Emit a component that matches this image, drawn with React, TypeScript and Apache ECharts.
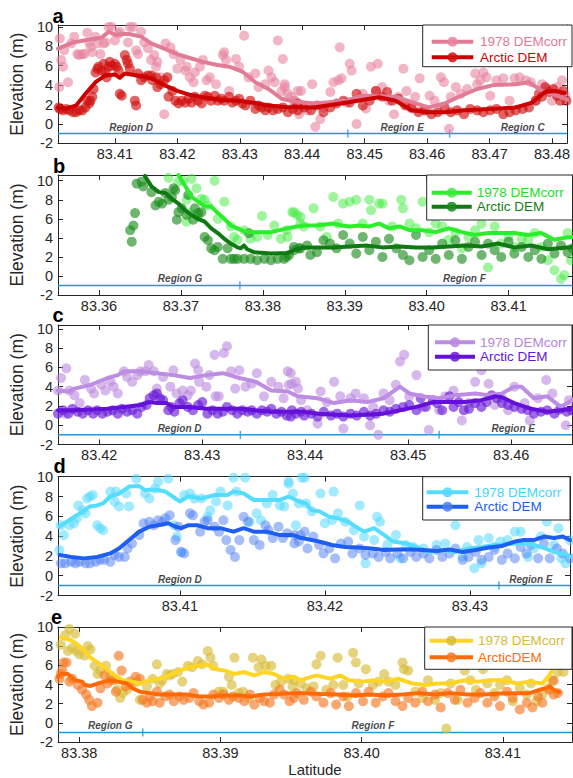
import React, { useEffect, useRef } from "react";
import * as echarts from "echarts";

const FONT = "'Liberation Sans', Arial, Helvetica, sans-serif";
const AXIS_COLOR = "#262626";
const REGION_COLOR = "#1E9AD6";

// ---------------- Panel a ----------------
const A_X_RANGE = [83.4009, 83.4824];
const A_X_TICKS = [83.41, 83.42, 83.43, 83.44, 83.45, 83.46, 83.47, 83.48];
const A_CORR_LINE = [[83.4009,7.76],[83.4033,8.4],[83.4059,8.7],[83.4079,8.9],[83.409,9.5],[83.41,9.2],[83.4121,9.3],[83.4142,9.0],[83.4158,8.3],[83.4179,7.76],[83.42,7.2],[83.422,6.8],[83.4241,6.4],[83.4262,6.1],[83.4283,5.9],[83.4304,5.4],[83.4325,4.3],[83.4346,3.6],[83.4367,2.6],[83.4388,2.3],[83.4419,2.1],[83.4471,2.4],[83.4497,2.9],[83.4549,2.8],[83.4602,1.7],[83.4628,2.1],[83.4649,2.75],[83.468,3.6],[83.4706,4.0],[83.4742,4.1],[83.4763,4.3],[83.4784,3.4],[83.4805,3.0],[83.4824,2.5]];
const A_ARCTIC_LINE = [[83.4009,1.7],[83.4022,1.55],[83.4038,1.9],[83.4053,3.1],[83.4069,4.3],[83.4085,5.0],[83.41,5.1],[83.4108,4.75],[83.4116,5.2],[83.4137,5.0],[83.4158,4.7],[83.4179,4.0],[83.42,3.4],[83.422,3.0],[83.4241,2.75],[83.4267,2.5],[83.4294,2.4],[83.432,2.2],[83.4346,1.9],[83.4372,1.75],[83.4419,1.7],[83.4471,2.2],[83.4523,2.75],[83.4549,2.4],[83.4575,1.4],[83.4602,1.2],[83.4628,1.2],[83.4659,1.4],[83.4706,1.55],[83.4742,1.7],[83.4768,2.2],[83.4789,3.3],[83.4805,3.4],[83.482,3.2]];
const A_CORR_PTS = [[83.4011,3.8],[83.4012,8.8],[83.4014,6.6],[83.4017,5.9],[83.4019,7.6],[83.4025,4.3],[83.403,8.3],[83.4035,9.0],[83.404,7.2],[83.4043,7.1],[83.4048,7.2],[83.4051,7.2],[83.4056,9.4],[83.4059,8.4],[83.4061,7.9],[83.4064,7.4],[83.4069,9.0],[83.4072,8.3],[83.4077,7.2],[83.4082,8.3],[83.4085,8.4],[83.409,10.0],[83.4095,10.0],[83.41,8.6],[83.4106,9.3],[83.4108,9.5],[83.4121,8.4],[83.4124,10.0],[83.4129,10.0],[83.4134,7.6],[83.4137,7.2],[83.4142,9.5],[83.4147,8.4],[83.4153,7.8],[83.4158,6.6],[83.4163,7.1],[83.4166,5.9],[83.4168,6.4],[83.4173,4.8],[83.4179,1.0],[83.4181,8.3],[83.4189,7.9],[83.4194,7.2],[83.42,5.7],[83.4205,6.6],[83.4213,5.5],[83.4215,5.9],[83.422,4.8],[83.4226,4.3],[83.4228,5.3],[83.4236,5.9],[83.4241,6.6],[83.4247,4.5],[83.4252,4.8],[83.4262,4.1],[83.4273,7.1],[83.4275,7.4],[83.4278,6.6],[83.4283,3.4],[83.4294,6.7],[83.4299,5.9],[83.4307,9.1],[83.4314,4.8],[83.4325,5.2],[83.433,3.8],[83.4341,4.1],[83.4346,5.5],[83.4351,4.8],[83.4356,4.3],[83.4361,8.6],[83.4367,3.4],[83.4369,6.7],[83.4372,3.8],[83.4377,3.1],[83.4388,2.4],[83.4393,3.4],[83.4395,1.0],[83.4372,4.1],[83.4382,2.8],[83.4387,2.4],[83.4398,3.4],[83.4408,1.4],[83.4416,4.1],[83.4421,-0.3],[83.4429,0.5],[83.4434,1.7],[83.4445,3.3],[83.445,4.3],[83.4458,4.5],[83.446,7.9],[83.4463,4.7],[83.4471,2.2],[83.4476,6.2],[83.4479,5.5],[83.4487,0.0],[83.4497,3.1],[83.4502,1.6],[83.451,5.9],[83.4518,3.4],[83.4521,6.2],[83.4528,3.8],[83.4539,2.4],[83.4547,1.0],[83.4554,2.8],[83.4562,5.7],[83.4567,3.4],[83.4575,1.6],[83.4581,2.8],[83.4588,4.7],[83.4596,1.4],[83.4604,2.9],[83.4612,2.4],[83.4622,4.8],[83.4627,4.3],[83.4635,-0.5],[83.4638,2.8],[83.4646,3.8],[83.4654,3.1],[83.4664,3.6],[83.4677,5.2],[83.468,4.1],[83.4685,4.5],[83.469,5.3],[83.4695,4.8],[83.4701,2.9],[83.4711,4.5],[83.4722,4.7],[83.4732,2.4],[83.474,4.7],[83.4748,4.8],[83.4758,4.5],[83.4766,4.3],[83.4774,2.4],[83.4784,4.1],[83.4792,3.6],[83.48,2.4],[83.4808,3.8],[83.4816,4.5],[83.4821,2.9]];
const A_ARCTIC_PTS = [[83.401,1.7],[83.4012,1.55],[83.4017,1.4],[83.4022,1.55],[83.4027,1.4],[83.4033,1.2],[83.4038,1.2],[83.4043,1.4],[83.4048,1.4],[83.4053,1.7],[83.4056,2.4],[83.4059,2.1],[83.4061,2.4],[83.4064,2.8],[83.4066,3.6],[83.4069,5.3],[83.4072,5.7],[83.4074,5.9],[83.4079,5.5],[83.4082,6.2],[83.4085,5.3],[83.4087,4.8],[83.409,5.9],[83.4092,6.4],[83.4095,6.0],[83.41,6.2],[83.4103,5.9],[83.4106,5.5],[83.4108,3.1],[83.4111,2.9],[83.4116,7.1],[83.4119,6.6],[83.4121,6.2],[83.4124,5.7],[83.4132,2.4],[83.4134,1.9],[83.4137,5.2],[83.4142,4.5],[83.4147,4.8],[83.4153,5.0],[83.4158,5.0],[83.416,4.5],[83.4166,4.8],[83.4168,3.8],[83.4173,4.1],[83.4179,4.5],[83.4184,4.8],[83.4186,2.8],[83.4192,3.4],[83.4197,2.4],[83.4202,2.1],[83.4207,2.4],[83.4213,2.2],[83.4218,2.6],[83.4223,2.2],[83.4228,2.8],[83.4233,2.4],[83.4239,2.1],[83.4244,2.9],[83.4249,2.8],[83.4254,2.4],[83.426,2.9],[83.4265,2.4],[83.427,2.6],[83.4275,2.4],[83.4283,2.8],[83.4288,2.2],[83.4294,2.4],[83.4299,2.6],[83.4304,2.1],[83.4309,1.9],[83.4317,2.4],[83.4325,1.55],[83.433,1.9],[83.4335,1.7],[83.4341,1.4],[83.4346,1.7],[83.4353,1.4],[83.4361,1.55],[83.4369,1.7],[83.4377,1.2],[83.4385,1.55],[83.4393,1.4],[83.4393,2.1],[83.4403,1.7],[83.4414,1.4],[83.4424,1.9],[83.4434,1.2],[83.4445,1.7],[83.4455,2.1],[83.4466,2.4],[83.4476,2.2],[83.4487,3.1],[83.4497,1.9],[83.4508,2.4],[83.4518,3.4],[83.4528,2.8],[83.4536,3.3],[83.4544,2.4],[83.4554,2.6],[83.4565,1.9],[83.4575,1.7],[83.4586,1.2],[83.4596,1.4],[83.4607,1.0],[83.4617,1.2],[83.4628,1.7],[83.4638,1.2],[83.4648,1.4],[83.4659,1.0],[83.4669,1.55],[83.468,1.4],[83.469,1.2],[83.4701,1.4],[83.4711,1.55],[83.4722,1.0],[83.4732,1.2],[83.4742,1.4],[83.4753,1.55],[83.4763,1.7],[83.4774,2.4],[83.4779,3.1],[83.4784,2.8],[83.4789,3.8],[83.4795,3.3],[83.4802,3.6],[83.4808,2.9],[83.4813,2.4],[83.4818,3.4],[83.4823,2.4]];
const A_REGION_BOUNDS = [83.4473, 83.4636];
const A_REGION_LABELS: [number, string][] = [[83.4126, "Region D"], [83.456, "Region E"], [83.4753, "Region C"]];

// ---------------- Panel b ----------------
const B_X_RANGE = [83.355, 83.4178];
const B_X_TICKS = [83.36, 83.37, 83.38, 83.39, 83.4, 83.41];
const B_CORR_LINE = [[83.3697,10.6],[83.3705,9.5],[83.3713,8.3],[83.3721,7.8],[83.3729,7.3],[83.3737,7.3],[83.3745,6.6],[83.3753,6.0],[83.3761,5.3],[83.3769,5.0],[83.3777,4.7],[83.3789,4.6],[83.381,4.6],[83.383,5.0],[83.3842,5.2],[83.385,5.3],[83.3866,5.3],[83.3886,5.5],[83.3896,5.3],[83.3906,5.2],[83.3918,5.3],[83.393,5.2],[83.3942,5.5],[83.3954,5.0],[83.3967,5.2],[83.3979,4.8],[83.3995,4.8],[83.4011,4.6],[83.4027,5.0],[83.4043,4.6],[83.4059,4.3],[83.4075,4.5],[83.4091,4.5],[83.4107,4.5],[83.4124,4.3],[83.414,4.5],[83.4156,3.8],[83.4168,4.0],[83.4178,4.1]];
const B_ARCTIC_LINE = [[83.3656,10.5],[83.3664,9.4],[83.3673,8.8],[83.3681,8.7],[83.3689,8.1],[83.3697,7.6],[83.3705,6.9],[83.3713,6.4],[83.3721,6.0],[83.3729,5.7],[83.3737,5.0],[83.3745,4.5],[83.3753,3.9],[83.3761,3.4],[83.3769,3.0],[83.3773,2.9],[83.3777,3.2],[83.3781,2.8],[83.3789,2.5],[83.381,2.35],[83.383,2.4],[83.3838,2.7],[83.385,3.0],[83.3866,3.0],[83.3886,3.0],[83.3906,3.1],[83.3926,3.2],[83.3946,3.0],[83.3967,3.1],[83.3987,3.0],[83.4007,3.0],[83.4027,3.1],[83.4047,3.2],[83.4067,3.1],[83.4087,3.4],[83.4107,3.0],[83.4128,3.2],[83.4148,2.8],[83.4178,3.05]];
const B_CORR_PTS = [[83.3685,10.3],[83.3697,9.9],[83.3703,10.0],[83.3713,10.2],[83.3719,9.2],[83.3707,8.0],[83.3711,6.6],[83.3707,5.7],[83.3725,8.1],[83.3729,8.0],[83.3741,10.0],[83.3753,7.8],[83.3721,6.2],[83.3733,7.4],[83.3745,6.0],[83.3761,5.2],[83.3765,4.1],[83.3769,3.8],[83.3777,4.8],[83.3785,3.9],[83.3793,4.1],[83.3799,6.3],[83.3806,4.3],[83.3814,5.3],[83.3822,3.9],[83.383,4.1],[83.3836,6.7],[83.3842,6.4],[83.3846,5.5],[83.3829,4.8],[83.3838,6.7],[83.3846,6.2],[83.385,5.2],[83.3862,7.1],[83.387,5.2],[83.3878,4.1],[83.3886,8.3],[83.3892,5.5],[83.3898,7.6],[83.3906,7.8],[83.3914,8.0],[83.3922,5.5],[83.393,8.0],[83.3932,6.9],[83.3942,7.6],[83.3946,7.6],[83.3958,5.2],[83.3969,8.0],[83.3971,7.1],[83.3979,5.5],[83.3987,5.0],[83.3995,7.8],[83.4003,4.6],[83.4011,5.5],[83.4019,5.2],[83.4027,3.8],[83.4035,4.6],[83.4043,2.9],[83.4051,4.1],[83.4059,4.8],[83.4067,5.5],[83.4075,0.9],[83.4083,5.2],[83.4091,3.4],[83.41,4.1],[83.4107,3.05],[83.4116,3.9],[83.4124,3.8],[83.4132,4.5],[83.414,3.05],[83.4148,1.65],[83.4156,0.6],[83.4164,-0.3],[83.4168,0.1],[83.4172,4.5],[83.4176,1.65]];
const B_ARCTIC_PTS = [[83.3638,4.8],[83.3642,5.3],[83.364,3.6],[83.3644,6.6],[83.3646,9.7],[83.3652,9.9],[83.3654,9.4],[83.3664,8.8],[83.3669,7.4],[83.3673,7.8],[83.3677,7.6],[83.3681,8.7],[83.3685,8.0],[83.3689,8.3],[83.3691,9.2],[83.3693,9.0],[83.3695,5.9],[83.3697,6.7],[83.3701,7.1],[83.3707,6.4],[83.3709,8.5],[83.3715,5.9],[83.3717,7.1],[83.3721,6.6],[83.3725,6.7],[83.3729,4.1],[83.3733,3.75],[83.3737,2.9],[83.3741,2.7],[83.3745,3.05],[83.3751,1.8],[83.3757,2.9],[83.3761,1.8],[83.3765,1.8],[83.3769,1.8],[83.3777,1.8],[83.3783,4.5],[83.3785,1.8],[83.3793,1.65],[83.3802,1.8],[83.381,1.65],[83.3818,1.8],[83.3826,1.8],[83.3832,2.2],[83.3838,2.7],[83.3844,2.9],[83.3829,2.0],[83.3838,3.05],[83.3846,2.9],[83.3854,3.2],[83.3858,2.2],[83.3866,2.5],[83.3874,3.75],[83.3882,3.4],[83.389,2.9],[83.3898,4.3],[83.3906,3.4],[83.3914,2.35],[83.3922,4.1],[83.393,2.7],[83.3938,3.6],[83.3946,2.0],[83.3954,3.9],[83.3963,2.9],[83.3971,2.2],[83.3979,1.65],[83.3987,4.3],[83.3995,2.0],[83.4003,2.7],[83.4011,1.8],[83.4019,3.4],[83.4027,2.2],[83.4035,3.75],[83.4043,1.8],[83.4051,3.05],[83.4059,3.6],[83.4067,2.2],[83.4075,3.4],[83.4083,2.7],[83.4091,2.0],[83.41,3.6],[83.4107,2.35],[83.4116,3.05],[83.4124,2.0],[83.4132,2.7],[83.414,1.8],[83.4148,3.4],[83.4156,2.35],[83.4164,3.2],[83.4172,2.5],[83.4178,2.9]];
const B_REGION_BOUNDS = [83.3772];
const B_REGION_LABELS: [number, string][] = [[83.3699, "Region G"], [83.4046, "Region F"]];

// ---------------- Panel c ----------------
const C_X_RANGE = [83.416, 83.4659];
const C_X_TICKS = [83.42, 83.43, 83.44, 83.45, 83.46];
const C_CORR_LINE = [[83.416,3.6],[83.417,3.5],[83.4176,3.8],[83.4192,4.2],[83.4208,4.9],[83.4218,5.2],[83.4224,5.6],[83.424,5.6],[83.4256,5.4],[83.4272,5.2],[83.4288,4.9],[83.4304,5.2],[83.432,5.4],[83.4336,4.9],[83.4352,4.5],[83.4367,3.6],[83.4383,3.5],[83.4393,3.0],[83.4412,2.8],[83.4428,2.3],[83.4444,2.6],[83.446,2.4],[83.4476,2.8],[83.4492,4.0],[83.4501,3.3],[83.4514,3.0],[83.453,2.8],[83.4546,3.1],[83.4565,3.3],[83.4578,3.1],[83.4591,3.3],[83.4603,4.0],[83.461,4.0],[83.4622,2.8],[83.4635,3.0],[83.4648,1.9],[83.4659,2.6]];
const C_ARCTIC_LINE = [[83.416,1.55],[83.4176,1.55],[83.4208,1.7],[83.4224,1.9],[83.424,2.1],[83.4249,2.4],[83.4256,2.3],[83.4265,2.3],[83.4272,1.9],[83.4288,1.9],[83.4304,1.7],[83.4336,1.7],[83.4367,1.4],[83.4399,1.4],[83.4412,1.2],[83.4444,1.0],[83.4476,1.2],[83.4492,1.55],[83.4508,1.9],[83.4524,2.4],[83.454,2.4],[83.4555,2.4],[83.4571,2.6],[83.4584,3.0],[83.4591,2.9],[83.4603,2.3],[83.4619,1.7],[83.4635,1.4],[83.4648,1.55],[83.4659,1.7]];
const C_CORR_PTS = [[83.416,3.6],[83.4163,4.9],[83.4168,5.9],[83.4167,1.2],[83.4171,3.6],[83.4176,3.1],[83.4181,2.3],[83.4186,4.7],[83.4192,3.8],[83.4195,3.3],[83.4202,4.2],[83.4206,3.6],[83.4211,4.5],[83.4214,4.0],[83.4218,3.3],[83.4224,5.6],[83.4227,5.0],[83.4232,4.5],[83.4237,5.2],[83.424,5.6],[83.4245,5.6],[83.4248,6.25],[83.4253,5.6],[83.4256,3.8],[83.4262,5.0],[83.4269,4.0],[83.4272,5.7],[83.4275,3.3],[83.4281,3.6],[83.4286,3.1],[83.4289,3.6],[83.4293,6.4],[83.4296,5.7],[83.4297,4.5],[83.4304,4.0],[83.4307,5.2],[83.4312,7.3],[83.4313,3.0],[83.4316,3.0],[83.4321,7.5],[83.4324,8.2],[83.4328,5.6],[83.4332,3.8],[83.4336,5.7],[83.4342,4.0],[83.4348,4.3],[83.4353,5.4],[83.436,3.0],[83.4367,4.5],[83.4374,4.0],[83.4379,2.8],[83.4383,5.6],[83.4387,4.3],[83.4393,3.8],[83.4384,4.2],[83.4386,5.4],[83.4391,4.5],[83.4396,2.6],[83.4402,1.55],[83.4412,0.17],[83.4415,3.5],[83.4421,2.4],[83.4428,4.5],[83.4434,3.0],[83.4437,-0.35],[83.4444,2.8],[83.4449,3.3],[83.4457,2.8],[83.4463,0.0],[83.4466,1.9],[83.4471,-1.0],[83.4476,3.3],[83.4482,2.6],[83.4488,4.2],[83.4492,6.6],[83.4496,7.3],[83.4501,3.0],[83.4508,5.2],[83.4514,1.9],[83.452,-0.5],[83.453,1.55],[83.4536,3.0],[83.4544,3.6],[83.4552,0.5],[83.4559,2.3],[83.4565,4.5],[83.4571,5.7],[83.4578,4.3],[83.4584,2.1],[83.4591,2.8],[83.4597,1.55],[83.4603,4.0],[83.4613,2.3],[83.4618,0.5],[83.4626,2.8],[83.4634,4.7],[83.464,3.3],[83.4646,1.55],[83.4653,0.0],[83.4656,2.6]];
const C_ARCTIC_PTS = [[83.416,1.2],[83.4165,1.55],[83.417,1.2],[83.4174,1.7],[83.4179,1.4],[83.4184,1.2],[83.4189,1.55],[83.4194,1.2],[83.4198,1.55],[83.4203,1.2],[83.4208,1.4],[83.4213,1.55],[83.4218,1.2],[83.4222,1.7],[83.4227,1.4],[83.4232,1.55],[83.4237,1.2],[83.4241,1.9],[83.4246,2.1],[83.4249,2.8],[83.4253,3.1],[83.4256,3.3],[83.4259,2.8],[83.4262,2.6],[83.4267,1.55],[83.427,1.9],[83.4273,1.4],[83.4278,2.3],[83.4281,2.6],[83.4286,1.9],[83.4291,1.55],[83.4296,2.1],[83.43,2.4],[83.4305,1.2],[83.431,1.55],[83.4315,1.2],[83.432,1.4],[83.4324,1.9],[83.4329,1.55],[83.4334,1.2],[83.4339,1.55],[83.4344,1.4],[83.4348,1.55],[83.4353,1.2],[83.4358,1.55],[83.4363,1.4],[83.4367,1.7],[83.4372,1.2],[83.4377,1.4],[83.4382,1.0],[83.4387,1.55],[83.4391,1.2],[83.4396,1.4],[83.4386,0.9],[83.4399,1.0],[83.4406,1.2],[83.4412,0.9],[83.4418,1.4],[83.4425,1.0],[83.4431,1.2],[83.4437,0.9],[83.4444,1.2],[83.445,1.0],[83.4457,1.4],[83.4463,1.0],[83.4469,1.2],[83.4476,1.55],[83.4482,1.4],[83.4488,1.7],[83.4495,1.9],[83.4501,2.1],[83.4508,1.55],[83.4512,2.8],[83.4517,1.9],[83.4524,2.6],[83.4528,2.3],[83.4533,1.55],[83.454,3.0],[83.4544,1.9],[83.4549,2.4],[83.4554,1.55],[83.4559,1.7],[83.4565,2.3],[83.4571,1.9],[83.4576,2.4],[83.4581,3.1],[83.4586,2.8],[83.4591,2.3],[83.4597,2.1],[83.4603,1.9],[83.461,1.7],[83.4616,1.55],[83.4622,1.2],[83.4629,1.4],[83.4635,1.55],[83.4642,1.2],[83.4648,1.7],[83.4654,1.4],[83.4659,1.55]];
const C_REGION_BOUNDS = [83.4337, 83.453];
const C_REGION_LABELS: [number, string][] = [[83.4278, "Region D"], [83.4602, "Region E"]];

// ---------------- Panel d ----------------
const D_X_RANGE = [83.4016, 83.4369];
const D_X_TICKS = [83.41, 83.42, 83.43];
const D_CORR_LINE = [[83.4017,4.95],[83.4022,5.45],[83.4029,6.1],[83.4034,6.6],[83.4038,7.0],[83.4043,7.1],[83.4047,7.3],[83.4052,8.0],[83.4058,8.3],[83.4065,9.0],[83.4072,9.05],[83.4076,8.65],[83.4083,8.7],[83.409,8.5],[83.4097,7.8],[83.41,7.5],[83.4106,8.0],[83.4115,7.8],[83.4124,8.15],[83.4133,8.15],[83.4137,8.5],[83.4144,8.3],[83.4151,7.65],[83.416,7.65],[83.4169,7.65],[83.4175,8.0],[83.4182,7.5],[83.4187,7.3],[83.4191,6.6],[83.4196,6.5],[83.4203,5.95],[83.4209,5.8],[83.4216,5.45],[83.4223,4.8],[83.4227,4.45],[83.4234,4.8],[83.4241,4.1],[83.4247,3.45],[83.4256,3.25],[83.4263,2.9],[83.4272,2.4],[83.4281,2.6],[83.429,2.4],[83.4299,2.75],[83.4308,2.9],[83.4317,3.1],[83.4331,3.25],[83.434,3.25],[83.4349,2.9],[83.4358,2.4],[83.4367,2.1],[83.4369,1.9]];
const D_ARCTIC_LINE = [[83.4017,2.1],[83.4025,1.9],[83.4034,1.75],[83.4043,1.9],[83.4052,2.25],[83.4058,2.75],[83.4065,3.6],[83.4072,4.45],[83.4079,4.95],[83.4085,5.1],[83.4092,5.3],[83.4097,4.95],[83.4101,4.8],[83.4106,5.1],[83.4112,5.1],[83.4119,4.8],[83.4128,4.8],[83.4137,4.45],[83.4144,4.8],[83.4151,4.45],[83.416,4.45],[83.4169,4.1],[83.4178,4.1],[83.4184,3.8],[83.4196,3.45],[83.4205,3.1],[83.4214,2.9],[83.4223,2.85],[83.4232,2.75],[83.4241,2.6],[83.425,2.65],[83.4259,2.65],[83.4268,2.6],[83.4277,2.5],[83.4286,2.65],[83.4295,2.4],[83.4304,2.6],[83.4313,2.85],[83.4322,3.0],[83.4331,3.45],[83.4337,3.6],[83.4344,3.6],[83.4351,3.95],[83.4358,3.8],[83.4364,3.95],[83.4369,3.6]];
const D_CORR_PTS = [[83.4017,2.6],[83.4018,5.1],[83.402,4.1],[83.4024,5.1],[83.4027,5.3],[83.4029,5.8],[83.403,7.1],[83.4033,6.6],[83.4035,6.3],[83.4036,7.8],[83.4038,8.0],[83.404,8.15],[83.4043,5.1],[83.4045,4.8],[83.4047,4.6],[83.4052,8.5],[83.4055,7.5],[83.4056,8.5],[83.4058,7.0],[83.4063,8.3],[83.4065,7.0],[83.407,9.8],[83.4076,8.3],[83.4079,7.8],[83.4083,8.8],[83.4085,9.5],[83.4092,9.8],[83.4096,5.1],[83.4098,3.95],[83.4101,2.4],[83.4103,8.15],[83.4107,8.3],[83.411,7.8],[83.4115,7.8],[83.4119,5.95],[83.4121,6.6],[83.4125,7.5],[83.4128,8.5],[83.4133,7.1],[83.4137,9.9],[83.4139,8.5],[83.4145,9.9],[83.4148,5.45],[83.4153,6.3],[83.4156,5.6],[83.416,7.3],[83.4164,8.15],[83.4169,7.1],[83.4172,7.0],[83.4175,9.5],[83.4178,8.3],[83.418,5.1],[83.4184,9.9],[83.4175,9.3],[83.4186,9.9],[83.4182,7.3],[83.4187,7.3],[83.4191,6.5],[83.4197,8.3],[83.42,5.3],[83.4205,5.6],[83.4206,8.5],[83.4209,6.3],[83.4214,5.45],[83.422,4.6],[83.4224,7.1],[83.4227,3.95],[83.4228,1.25],[83.4234,3.6],[83.4236,5.95],[83.4238,5.45],[83.4243,3.1],[83.4249,4.1],[83.4252,1.75],[83.4256,3.1],[83.4261,2.9],[83.4268,2.75],[83.4277,3.1],[83.4283,3.25],[83.429,5.1],[83.4295,1.9],[83.4298,2.9],[83.4303,0.75],[83.4306,3.6],[83.4308,1.25],[83.4313,3.8],[83.4317,2.9],[83.4321,3.45],[83.4326,3.6],[83.4331,4.45],[83.4335,4.45],[83.434,1.9],[83.4344,2.75],[83.4349,3.95],[83.4353,5.45],[83.4358,3.1],[83.4361,4.8],[83.4363,1.75],[83.4366,1.25],[83.4369,3.6]];
const D_ARCTIC_PTS = [[83.4018,1.25],[83.4021,1.25],[83.4025,1.4],[83.4028,1.25],[83.4031,1.4],[83.4035,1.25],[83.4038,1.25],[83.4042,1.4],[83.4045,1.6],[83.4048,1.6],[83.4052,1.4],[83.4055,2.1],[83.4058,1.9],[83.4062,1.9],[83.4064,2.75],[83.4067,3.25],[83.4072,4.1],[83.4075,5.3],[83.4079,5.45],[83.4082,5.1],[83.4085,5.6],[83.4088,5.45],[83.409,5.8],[83.4093,6.1],[83.4097,3.6],[83.4099,4.95],[83.4101,2.4],[83.4103,2.25],[83.4107,6.3],[83.4109,6.1],[83.4114,4.45],[83.4117,5.45],[83.4119,5.6],[83.4124,4.95],[83.4127,4.45],[83.413,5.6],[83.4132,3.6],[83.4135,2.6],[83.4138,1.9],[83.4141,3.6],[83.4144,5.95],[83.4147,5.45],[83.4151,3.6],[83.4155,3.1],[83.4159,5.1],[83.4161,4.6],[83.4164,3.8],[83.4168,4.95],[83.4171,3.8],[83.4174,4.3],[83.4179,4.1],[83.4182,3.45],[83.4186,4.45],[83.4179,3.25],[83.4183,4.1],[83.4188,2.75],[83.4192,3.95],[83.4196,3.1],[83.4199,2.25],[83.4203,2.75],[83.4207,1.75],[83.4211,3.25],[83.4216,3.45],[83.4219,2.25],[83.4224,2.75],[83.4228,2.1],[83.4233,2.25],[83.4237,1.9],[83.4242,2.4],[83.4245,1.75],[83.425,2.25],[83.4254,1.75],[83.4259,2.4],[83.4263,1.9],[83.4268,2.25],[83.4272,1.75],[83.4277,2.6],[83.4281,1.9],[83.4286,2.25],[83.429,2.75],[83.4295,1.6],[83.4299,1.9],[83.4304,2.4],[83.4308,1.6],[83.4313,1.9],[83.4317,2.6],[83.4322,1.6],[83.4326,2.25],[83.4331,1.75],[83.4335,2.9],[83.4339,2.25],[83.4342,3.1],[83.4347,1.75],[83.4351,3.25],[83.4355,1.75],[83.436,2.75],[83.4364,2.25],[83.4369,1.75]];
const D_REGION_BOUNDS = [83.432];
const D_REGION_LABELS: [number, string][] = [[83.41, "Region D"], [83.4342, "Region E"]];

// ---------------- Panel e ----------------
const E_X_RANGE = [83.3785, 83.4149];
const E_X_TICKS = [83.38, 83.39, 83.4, 83.41];
const E_CORR_LINE = [[83.3787,8.9],[83.3794,8.65],[83.3799,8.15],[83.3804,7.5],[83.3808,6.8],[83.3813,6.3],[83.3818,5.8],[83.3822,5.3],[83.3827,4.8],[83.3831,4.45],[83.3838,4.3],[83.3843,4.1],[83.385,4.45],[83.3857,4.6],[83.3864,4.95],[83.3871,5.45],[83.3878,5.8],[83.3885,5.95],[83.389,6.1],[83.3897,5.6],[83.3903,5.45],[83.391,5.1],[83.3917,5.3],[83.3924,4.95],[83.3931,5.3],[83.3938,5.1],[83.3945,4.6],[83.3952,4.8],[83.3957,4.45],[83.3968,4.95],[83.3978,4.6],[83.3985,4.95],[83.3991,4.45],[83.4001,4.3],[83.4008,4.45],[83.4017,4.3],[83.4026,4.6],[83.4036,4.1],[83.4045,3.95],[83.4054,4.1],[83.4063,4.1],[83.4073,4.45],[83.4082,4.3],[83.4091,4.45],[83.41,4.45],[83.411,4.1],[83.4119,4.3],[83.4128,4.1],[83.4133,4.95],[83.4135,5.45],[83.414,6.1]];
const E_ARCTIC_LINE = [[83.3785,4.8],[83.3787,5.1],[83.3792,5.1],[83.3797,4.45],[83.3802,4.3],[83.3804,3.95],[83.3808,3.85],[83.3813,4.1],[83.3818,4.3],[83.3822,4.45],[83.3827,4.3],[83.3834,4.1],[83.3838,3.6],[83.3843,3.25],[83.385,3.1],[83.3857,2.95],[83.3866,2.95],[83.3876,2.95],[83.3885,2.75],[83.3894,2.75],[83.3903,2.85],[83.3913,2.85],[83.3922,2.75],[83.3931,2.95],[83.3941,3.0],[83.3952,3.1],[83.3959,3.1],[83.3971,3.0],[83.3982,2.95],[83.3994,2.85],[83.4005,2.95],[83.4017,2.85],[83.4029,2.95],[83.404,3.1],[83.4052,2.95],[83.4063,3.1],[83.4075,2.95],[83.4087,2.95],[83.4098,3.05],[83.411,3.1],[83.4119,3.1],[83.4126,3.45],[83.4131,3.6],[83.4133,3.8],[83.4136,3.45],[83.414,3.2]];
const E_CORR_PTS = [[83.3787,8.15],[83.379,9.15],[83.3793,9.8],[83.3797,9.3],[83.3792,7.5],[83.3795,7.8],[83.3798,7.5],[83.38,7.15],[83.3804,7.0],[83.3806,8.0],[83.3808,7.65],[83.3811,5.95],[83.3813,5.1],[83.3815,5.45],[83.3819,5.95],[83.3822,4.95],[83.3825,4.45],[83.3827,3.45],[83.3829,2.6],[83.3831,3.1],[83.3834,3.45],[83.3837,3.95],[83.3841,4.3],[83.3843,2.4],[83.3848,3.8],[83.3852,4.6],[83.3855,6.1],[83.3857,4.1],[83.3859,4.45],[83.3862,5.1],[83.3864,4.95],[83.3866,5.1],[83.387,5.3],[83.3873,4.3],[83.3877,5.95],[83.388,5.8],[83.3884,6.45],[83.3887,6.1],[83.3891,7.5],[83.3893,6.8],[83.3895,5.95],[83.3899,3.25],[83.3902,3.25],[83.3906,4.8],[83.3908,3.95],[83.391,6.8],[83.3913,3.1],[83.3916,3.25],[83.392,2.6],[83.3923,6.8],[83.3927,5.8],[83.3929,6.6],[83.3932,5.95],[83.3936,5.95],[83.3939,3.95],[83.3943,4.3],[83.3948,4.6],[83.3951,3.8],[83.3952,4.45],[83.3957,4.1],[83.3961,3.6],[83.3966,3.8],[83.3968,6.1],[83.3971,7.0],[83.3975,3.45],[83.398,3.95],[83.3983,6.8],[83.3987,3.95],[83.399,2.75],[83.3994,7.3],[83.3996,6.3],[83.3998,4.1],[83.4003,5.6],[83.4008,3.95],[83.4012,4.3],[83.4016,5.1],[83.4019,4.3],[83.4024,3.95],[83.4029,6.3],[83.403,5.6],[83.4033,5.45],[83.4038,3.25],[83.4043,2.6],[83.4047,4.45],[83.4052,2.4],[83.4056,3.1],[83.406,-0.6],[83.4063,4.1],[83.4068,2.4],[83.4073,5.45],[83.4077,4.45],[83.4081,3.45],[83.4086,5.6],[83.4089,4.1],[83.4094,3.1],[83.4098,3.95],[83.4103,4.45],[83.4107,2.25],[83.4112,3.6],[83.4117,2.95],[83.412,4.1],[83.4124,2.25],[83.4128,2.95],[83.4132,3.6],[83.4135,4.45],[83.4139,5.3],[83.4143,5.3]];
const E_ARCTIC_PTS = [[83.3786,4.6],[83.3787,5.1],[83.3788,5.45],[83.3789,6.3],[83.3791,6.3],[83.3793,4.3],[83.3795,4.6],[83.3799,3.95],[83.3802,3.45],[83.3805,2.95],[83.3807,2.4],[83.3809,1.75],[83.3813,2.1],[83.3815,3.6],[83.3818,4.95],[83.382,4.1],[83.3823,4.45],[83.3826,3.25],[83.3828,7.0],[83.383,5.45],[83.3833,3.8],[83.3836,4.3],[83.384,4.8],[83.3843,4.6],[83.3845,2.4],[83.3848,2.1],[83.385,2.75],[83.3852,2.25],[83.3855,3.25],[83.3857,2.1],[83.3861,2.75],[83.3864,2.95],[83.3867,2.25],[83.3871,2.75],[83.3874,2.4],[83.3878,2.6],[83.3881,3.1],[83.3885,2.25],[83.3888,1.9],[83.3892,2.1],[83.3895,2.95],[83.3899,2.6],[83.3902,2.95],[83.3906,2.4],[83.3909,2.75],[83.3913,2.6],[83.3917,2.25],[83.3921,2.95],[83.3924,1.9],[83.3928,2.6],[83.3931,2.25],[83.3935,2.1],[83.3938,2.95],[83.3942,3.45],[83.3945,2.95],[83.3949,2.25],[83.3952,2.6],[83.3954,3.1],[83.3959,2.4],[83.3964,3.25],[83.3968,2.75],[83.3973,2.1],[83.3978,3.1],[83.3982,1.9],[83.3987,2.75],[83.3991,1.75],[83.3996,3.1],[83.4001,2.25],[83.4005,3.25],[83.401,2.1],[83.4015,2.75],[83.4019,3.1],[83.4024,2.25],[83.4029,1.75],[83.4033,2.6],[83.4038,2.1],[83.4043,3.25],[83.4047,2.25],[83.4052,2.95],[83.4056,1.6],[83.4061,3.1],[83.4066,2.4],[83.407,3.45],[83.4075,2.1],[83.408,2.6],[83.4084,3.1],[83.4089,2.1],[83.4094,2.75],[83.4098,1.75],[83.4103,3.25],[83.4107,2.6],[83.4112,1.4],[83.4117,2.1],[83.4121,1.6],[83.4125,2.75],[83.4128,2.1],[83.4133,3.45],[83.4136,2.95],[83.4139,3.1],[83.4136,4.4]];
const E_REGION_BOUNDS = [83.3845];
const E_REGION_LABELS: [number, string][] = [[83.3822, "Region G"], [83.4008, "Region F"]];

// ---------------- style / layout ----------------
const Y_TICKS = [-2, 0, 2, 4, 6, 8, 10];
const PANEL_LETTERS = ["a", "b", "c", "d", "e"];
const Y_MAX = [10.2, 10.6, 10.4, 10, 10];
const LEGEND_NAMES = [
  ["1978 DEMcorr", "Arctic DEM"],
  ["1978 DEMcorr", "Arctic DEM"],
  ["1978 DEMcorr", "Arctic DEM"],
  ["1978 DEMcorr", "Arctic DEM"],
  ["1978 DEMcorr", "ArcticDEM"],
];

const COLORS = [
  { corrLine: "#E27C96", corrDot: "#E8849E", corrOp: 0.6, corrText: "#E07A94", arcLine: "#CC0000", arcDot: "#D11010", arcOp: 0.65, arcText: "#CC0000" },
  { corrLine: "#2BEE2B", corrDot: "#3DEB3D", corrOp: 0.5, corrText: "#22E022", arcLine: "#0F7A12", arcDot: "#178A1A", arcOp: 0.62, arcText: "#138013" },
  { corrLine: "#BC8DE2", corrDot: "#BB88E0", corrOp: 0.6, corrText: "#B585E0", arcLine: "#6410DA", arcDot: "#6A1AD8", arcOp: 0.65, arcText: "#6414D8" },
  { corrLine: "#55DDFF", corrDot: "#55D8FF", corrOp: 0.55, corrText: "#44D6FF", arcLine: "#1E5EF2", arcDot: "#4C7EF5", arcOp: 0.5, arcText: "#1E5EF2" },
  { corrLine: "#FFD523", corrDot: "#D8BC38", corrOp: 0.65, corrText: "#D8B83A", arcLine: "#FF6A06", arcDot: "#F57A24", arcOp: 0.65, arcText: "#FF6A06" },
];

const GRIDS = [
  { left: 51.7, top: 25, right: 572, bottom: 143.3 },
  { left: 51.7, top: 175, right: 572.5, bottom: 295 },
  { left: 50, top: 325, right: 572, bottom: 444.5 },
  { left: 46.7, top: 476.7, right: 570, bottom: 595.5 },
  { left: 50, top: 627, right: 572, bottom: 745.5 },
];

const LEGEND_BOXES = [
  { x0: 422.7, y0: 25, x1: 572, y1: 66.7, r1: 41.7, r2: 57.3, lx0: 431.7, lx1: 473.3, tx: 480 },
  { x0: 426.7, y0: 175, x1: 572.5, y1: 220, r1: 192.7, r2: 206.7, lx0: 431.7, lx1: 471.7, tx: 476.7 },
  { x0: 428.3, y0: 325, x1: 572, y1: 370, r1: 342.3, r2: 356.7, lx0: 435, lx1: 475, tx: 480 },
  { x0: 422.7, y0: 476.7, x1: 570, y1: 520, r1: 492.3, r2: 506.7, lx0: 426.7, lx1: 468.3, tx: 474.3 },
  { x0: 424.7, y0: 627, x1: 572, y1: 669.3, r1: 640.7, r2: 657.3, lx0: 429.7, lx1: 473, tx: 478 },
];

const LETTER_X = [52.5, 53, 52.5, 53.5, 51];
const LETTER_BASELINE = [22.5, 173, 322, 472.5, 624];

const PANELS = [
  { xr: A_X_RANGE, ticks: A_X_TICKS, corrLine: A_CORR_LINE, arcLine: A_ARCTIC_LINE, corrPts: A_CORR_PTS, arcPts: A_ARCTIC_PTS, bounds: A_REGION_BOUNDS, labels: A_REGION_LABELS },
  { xr: B_X_RANGE, ticks: B_X_TICKS, corrLine: B_CORR_LINE, arcLine: B_ARCTIC_LINE, corrPts: B_CORR_PTS, arcPts: B_ARCTIC_PTS, bounds: B_REGION_BOUNDS, labels: B_REGION_LABELS },
  { xr: C_X_RANGE, ticks: C_X_TICKS, corrLine: C_CORR_LINE, arcLine: C_ARCTIC_LINE, corrPts: C_CORR_PTS, arcPts: C_ARCTIC_PTS, bounds: C_REGION_BOUNDS, labels: C_REGION_LABELS },
  { xr: D_X_RANGE, ticks: D_X_TICKS, corrLine: D_CORR_LINE, arcLine: D_ARCTIC_LINE, corrPts: D_CORR_PTS, arcPts: D_ARCTIC_PTS, bounds: D_REGION_BOUNDS, labels: D_REGION_LABELS },
  { xr: E_X_RANGE, ticks: E_X_TICKS, corrLine: E_CORR_LINE, arcLine: E_ARCTIC_LINE, corrPts: E_CORR_PTS, arcPts: E_ARCTIC_PTS, bounds: E_REGION_BOUNDS, labels: E_REGION_LABELS },
];

function buildOption() {
  const grid: any[] = [];
  const xAxis: any[] = [];
  const yAxis: any[] = [];
  const series: any[] = [];
  const graphic: any[] = [];
  const lineStyle = { color: AXIS_COLOR, width: 1 };

  PANELS.forEach((p, i) => {
    const g = GRIDS[i];
    grid.push({ left: g.left, top: g.top, width: g.right - g.left, height: g.bottom - g.top, containLabel: false });
    const isLast = i === PANELS.length - 1;
    xAxis.push({
      type: "value", gridIndex: i, position: "bottom", min: p.xr[0], max: p.xr[1],
      axisLine: { show: true, onZero: false, lineStyle },
      axisTick: { show: true, inside: true, length: 5, customValues: p.ticks, lineStyle },
      axisLabel: { show: true, customValues: p.ticks, formatter: (v: number) => v.toFixed(2), margin: 3, fontSize: 14.5, color: AXIS_COLOR, fontFamily: FONT },
      splitLine: { show: false },
      name: isLast ? "Latitude" : "",
      nameLocation: "middle", nameGap: 20,
      nameTextStyle: { fontSize: 15, color: AXIS_COLOR, fontFamily: FONT },
    });
    xAxis.push({
      type: "value", gridIndex: i, position: "top", min: p.xr[0], max: p.xr[1],
      axisLine: { show: true, onZero: false, lineStyle },
      axisTick: { show: true, inside: true, length: 5, customValues: p.ticks, lineStyle },
      axisLabel: { show: false }, splitLine: { show: false },
    });
    yAxis.push({
      type: "value", gridIndex: i, position: "left", min: -2, max: Y_MAX[i],
      axisLine: { show: true, onZero: false, lineStyle },
      axisTick: { show: true, inside: true, length: 5, customValues: Y_TICKS, lineStyle },
      axisLabel: { show: true, customValues: Y_TICKS, margin: 5, fontSize: 14.5, color: AXIS_COLOR, fontFamily: FONT },
      splitLine: { show: false },
      name: "Elevation (m)", nameLocation: "middle", nameGap: 25,
      nameTextStyle: { fontSize: 17.5, color: AXIS_COLOR, fontFamily: FONT },
    });
    yAxis.push({
      type: "value", gridIndex: i, position: "right", min: -2, max: Y_MAX[i],
      axisLine: { show: true, onZero: false, lineStyle },
      axisTick: { show: true, inside: true, length: 5, customValues: Y_TICKS, lineStyle },
      axisLabel: { show: false }, splitLine: { show: false },
    });

    const c = COLORS[i];
    const ax = { xAxisIndex: 2 * i, yAxisIndex: 2 * i, silent: true };
    series.push({
      type: "line", ...ax, data: [[p.xr[0], -1], [p.xr[1], -1]], showSymbol: false,
      lineStyle: { color: REGION_COLOR, width: 1.5 }, z: 1,
    });
    series.push({
      type: "scatter", ...ax, data: p.bounds.map((b) => [b, -1]), symbol: "rect", symbolSize: [1.5, 8],
      itemStyle: { color: REGION_COLOR }, z: 1,
    });
    series.push({
      type: "scatter", ...ax, data: p.labels.map((l) => [l[0], -1, l[1]]), symbolSize: 1,
      itemStyle: { color: "rgba(0,0,0,0)" }, z: 1,
      label: {
        show: true, position: "top", distance: 1, formatter: (q: any) => q.data[2],
        fontSize: 10, fontStyle: "italic", fontWeight: "bold", color: "#151515", fontFamily: FONT,
      },
    });
    series.push({
      type: "scatter", ...ax, data: p.corrPts, symbolSize: 10,
      itemStyle: { color: c.corrDot, opacity: c.corrOp }, z: 2,
    });
    series.push({
      type: "scatter", ...ax, data: p.arcPts, symbolSize: 10,
      itemStyle: { color: c.arcDot, opacity: c.arcOp }, z: 3,
    });
    series.push({
      type: "line", ...ax, data: p.corrLine, showSymbol: false,
      lineStyle: { color: c.corrLine, width: 4, join: "round", cap: "round" }, z: 4,
    });
    series.push({
      type: "line", ...ax, data: p.arcLine, showSymbol: false,
      lineStyle: { color: c.arcLine, width: 4, join: "round", cap: "round" }, z: 5,
    });

    // panel letter
    graphic.push({
      type: "text", x: LETTER_X[i], y: LETTER_BASELINE[i] - 7, z: 100,
      style: { text: PANEL_LETTERS[i], fontSize: 20, fontWeight: "bold", fontFamily: FONT, fill: "#000", verticalAlign: "middle" },
    });

    // legend box
    const L = LEGEND_BOXES[i];
    const names = LEGEND_NAMES[i];
    const cx = (L.lx0 + L.lx1) / 2;
    graphic.push({ type: "rect", z: 100, shape: { x: L.x0, y: L.y0, width: L.x1 - L.x0, height: L.y1 - L.y0 }, style: { fill: "#fff", stroke: AXIS_COLOR, lineWidth: 1 } });
    graphic.push({ type: "line", z: 101, shape: { x1: L.lx0, y1: L.r1, x2: L.lx1, y2: L.r1 }, style: { stroke: c.corrLine, lineWidth: 4 } });
    graphic.push({ type: "circle", z: 102, shape: { cx, cy: L.r1, r: 5 }, style: { fill: c.corrDot, opacity: 0.85 } });
    graphic.push({ type: "text", z: 102, x: L.tx, y: L.r1, style: { text: names[0], fill: c.corrText, fontSize: 13.5, fontFamily: FONT, verticalAlign: "middle" } });
    graphic.push({ type: "line", z: 101, shape: { x1: L.lx0, y1: L.r2, x2: L.lx1, y2: L.r2 }, style: { stroke: c.arcLine, lineWidth: 4 } });
    graphic.push({ type: "circle", z: 102, shape: { cx, cy: L.r2, r: 5 }, style: { fill: c.arcDot, opacity: 0.85 } });
    graphic.push({ type: "text", z: 102, x: L.tx, y: L.r2, style: { text: names[1], fill: c.arcText, fontSize: 13.5, fontFamily: FONT, verticalAlign: "middle" } });
  });

  return { animation: false, backgroundColor: "#fff", grid, xAxis, yAxis, series, graphic };
}

export default function App() {
  const ref = useRef<HTMLDivElement>(null);
  useEffect(() => {
    if (!ref.current) return;
    const chart = echarts.init(ref.current, undefined, { renderer: "svg" });
    chart.setOption(buildOption() as any);
    return () => chart.dispose();
  }, []);
  return (
    <div
      ref={ref}
      style={{ position: "absolute", left: 0, top: 0, width: 573, height: 778, background: "#fff" }}
    />
  );
}
